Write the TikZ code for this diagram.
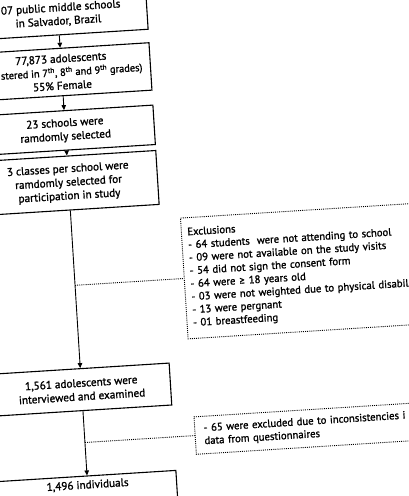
\documentclass[tikz,border=0pt]{standalone}
\usepackage{fontspec}
\setmainfont{PT Sans}[FakeBold=1.3]
\newfontfamily\symf{Lato}[FakeBold=1.3]
\usetikzlibrary{arrows.meta}
\begin{document}
\begin{tikzpicture}[x=1pt,y=1pt,
  box/.style={draw, line width=1.1pt, minimum width=178pt, align=center, inner xsep=0pt, inner ysep=0pt, font=\fontsize{11.2}{13.6}\selectfont},
  exbox/.style={draw, line width=0.9pt, dash pattern=on 1pt off 1.1pt, anchor=west, align=left, text width=300pt, inner ysep=0pt, font=\fontsize{10.7}{13}\selectfont},
  flow/.style={line width=0.9pt, -{Triangle[length=5pt,width=4.5pt]}},
  dots/.style={line width=0.9pt, dash pattern=on 1pt off 1.1pt}]
\useasboundingbox (0,0) rectangle (409,-496);
\fill[white] (0,0) rectangle (409,-496);
\begin{scope}[rotate=3.6, transform shape]
\node[box, minimum height=40pt] (b1) at (57,-18.5) {\hphantom{1}07 public middle schools\\in Salvador, Brazil};
\node[box, minimum height=47.5pt] (b2) at (57,-75.75) {77,873 adolescents\\{\fontsize{10.4}{13.6}\selectfont\hphantom{(regi}stered in 7\textsuperscript{th}, 8\textsuperscript{th} and 9\textsuperscript{th} grades)}\\55\% Female};
\node[box, minimum height=39.5pt] (b3) at (57,-134.25) {23 schools were\\ramdomly selected};
\node[box, minimum height=54pt] (b4) at (57,-187) {3 classes per school were\\ramdomly selected for\\participation in study};
\node[box, minimum height=42pt] (b5) at (57,-394) {1,561 adolescents were\\interviewed and examined};
\node[box, anchor=north, inner ysep=5.5pt, text height=7pt, text depth=30pt] (b6) at (57,-480) {1,496 individuals};
\node[exbox, inner xsep=6pt, minimum height=121pt] (e1) at (166,-289.5) {Exclusions\\
- 64 students\ \ were not attending to school\\
- 09 were not available on the study visits\\
- 54 did not sign the consent form\\
- 64 were {\symf ≥} 18 years old\\
- 03 were not weighted due to physical disabil\\
- 13 were pergnant\\
- 01 breastfeeding};
\node[exbox, inner xsep=9pt, minimum height=37.5pt] (e2) at (167,-447) {- 65 were excluded due to inconsistencies i\\data from questionnaires};
\coordinate (j1) at (57,-289.5);
\coordinate (j2) at (57,-447);
\draw[flow] (b1) -- (b2);
\draw[flow] (b2) -- (b3);
\draw[flow] (b3) -- (b4);
\draw[flow] (b4) -- (b5);
\draw[flow] (b5) -- (b6);
\draw[dots] (j1) -- (e1.west);
\draw[dots] (j2) -- (e2.west);
\end{scope}
\end{tikzpicture}
\end{document}
